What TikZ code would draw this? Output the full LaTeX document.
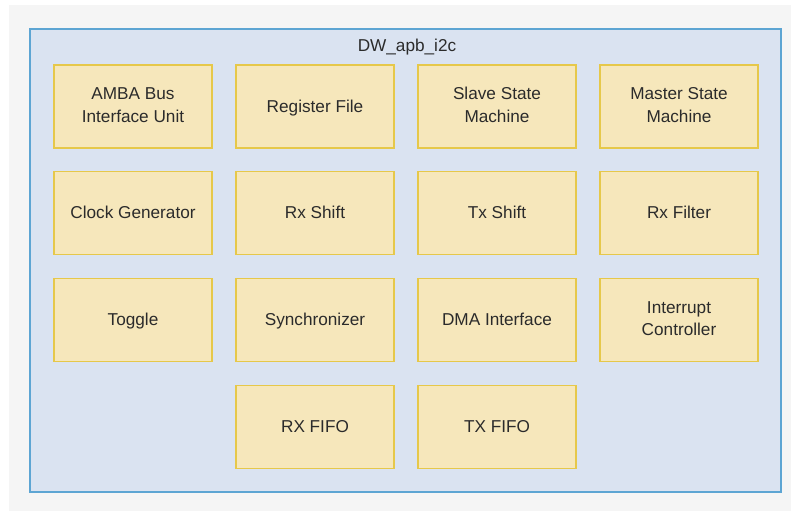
\documentclass[tikz,border=0pt]{standalone}
\usepackage{fontspec}
\setmainfont{Liberation Sans}
\definecolor{pagebg}{HTML}{F5F5F5}
\definecolor{outerfill}{HTML}{DAE3F1}
\definecolor{outerline}{HTML}{5DA5D3}
\definecolor{boxfill}{HTML}{F6E7BB}
\definecolor{boxline}{HTML}{E6C84A}
\definecolor{txt}{HTML}{2B2B2B}
\newcommand{\mystrut}{\rule[-5.6pt]{0pt}{23pt}}
\newcommand{\twoline}[2]{\raisebox{-3.5pt}{\begin{tabular}{@{}c@{}}#1\\#2\end{tabular}}}
\tikzset{
  blk/.style={draw=boxline, fill=boxfill, line width=1.5pt, minimum width=158pt, minimum height=83pt,
    inner sep=0pt, text=txt, font=\fontsize{17.2}{22.7}\selectfont},
  one/.style={execute at begin node={\mystrut}},
}
\begin{document}
\begin{tikzpicture}[x=1pt,y=-1pt]
\useasboundingbox (0,0) rectangle (791,511);
\fill[white] (0,0) rectangle (791,511);
\fill[pagebg] (9,5) rectangle (791,511);
\node[draw=outerline, fill=outerfill, line width=1.5pt, minimum width=751pt, minimum height=463pt, inner sep=0pt] (top) at (405.5,260.5) {};
\node[text=txt, font=\fontsize{17.2}{23}\selectfont] (title) at (407,46) {\mystrut DW\_apb\_i2c};
\node[blk] (amba) at (133,106.5) {\twoline{AMBA Bus}{Interface Unit}};
\node[blk, one] (reg) at (315,106.5) {Register File};
\node[blk] (slave) at (497,106.5) {\twoline{Slave State}{Machine}};
\node[blk] (master) at (679,106.5) {\twoline{Master State}{Machine}};
\node[blk, one] (clk) at (133,213) {Clock Generator};
\node[blk, one] (rxs) at (315,213) {Rx Shift};
\node[blk, one] (txs) at (497,213) {Tx Shift};
\node[blk, one] (rxf) at (679,213) {Rx Filter};
\node[blk, one] (tog) at (133,320) {Toggle};
\node[blk, one] (sync) at (315,320) {Synchronizer};
\node[blk, one] (dma) at (497,320) {DMA Interface};
\node[blk] (intr) at (679,320) {\twoline{Interrupt}{Controller}};
\node[blk, one] (rxfifo) at (315,427) {RX FIFO};
\node[blk, one] (txfifo) at (497,427) {TX FIFO};
\end{tikzpicture}
\end{document}
